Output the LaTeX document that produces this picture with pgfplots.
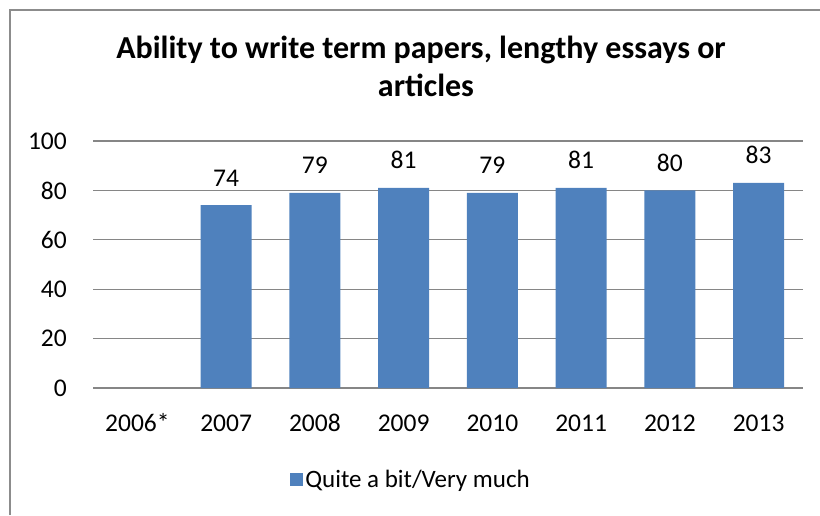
\documentclass[border=0pt]{standalone}
\usepackage{pgfplots}
\pgfplotsset{compat=1.18}
\usepackage{fontspec}
\setmainfont{Carlito}
\definecolor{barblue}{HTML}{4F81BD}
\definecolor{gridgray}{HTML}{868686}
\definecolor{framegray}{HTML}{8C8C8C}
\begin{document}
\begin{tikzpicture}
\useasboundingbox (0pt,0pt) rectangle (820pt,515pt);
% chart frame (left and top edges)
\draw[framegray, line width=1.3pt] (10pt,0pt) -- (10pt,505pt) -- (820pt,505pt);
% title
\node[anchor=base, font=\fontsize{32}{38}\selectfont\bfseries, inner sep=0pt] at (421pt,456pt) {Ability to write term papers, lengthy essays or};
\node[anchor=base, font=\fontsize{32}{38}\selectfont\bfseries, inner sep=0pt] at (426pt,418pt) {articles};
\begin{axis}[
  at={(93pt,127pt)}, anchor=south west,
  scale only axis, width=710pt, height=247pt,
  ymin=0, ymax=100, ytick={0,20,40,60,80,100},
  xmin=-0.5, xmax=7.5,
  xtick={0,1,2,3,4,5,6,7},
  xticklabels={2006*,2007,2008,2009,2010,2011,2012,2013},
  axis line style={draw=none},
  axis x line*=bottom,
  major tick length=0pt,
  ymajorgrids, grid style={gridgray, line width=1.2pt},
  /pgf/number format/assume math mode=true,
  tick label style={font=\fontsize{25.5}{30}\selectfont, inner sep=0pt},
  xticklabel style={anchor=base, yshift=-43pt},
  yticklabel style={anchor=east, xshift=-26pt},
  ybar, bar width=51pt,
  nodes near coords,
  every node near coord/.append style={font=\fontsize{25.5}{30}\selectfont, anchor=base, inner sep=0pt, yshift=19pt},
  legend style={draw=none, at={(0.448,-0.372)}, anchor=center,
    font=\fontsize{25}{30}\selectfont, inner sep=0pt,
    /tikz/every even column/.append style={column sep=0pt}},
  legend image code/.code={\fill[barblue] (0pt,-6.5pt) rectangle (13pt,6.5pt);},
]
\addplot[fill=barblue, draw=none] coordinates {
  (1,74) (2,79) (3,81) (4,79) (5,81) (6,80) (7,83)
};
\addlegendentry{Quite a bit/Very much}
\end{axis}
\end{tikzpicture}
\end{document}
